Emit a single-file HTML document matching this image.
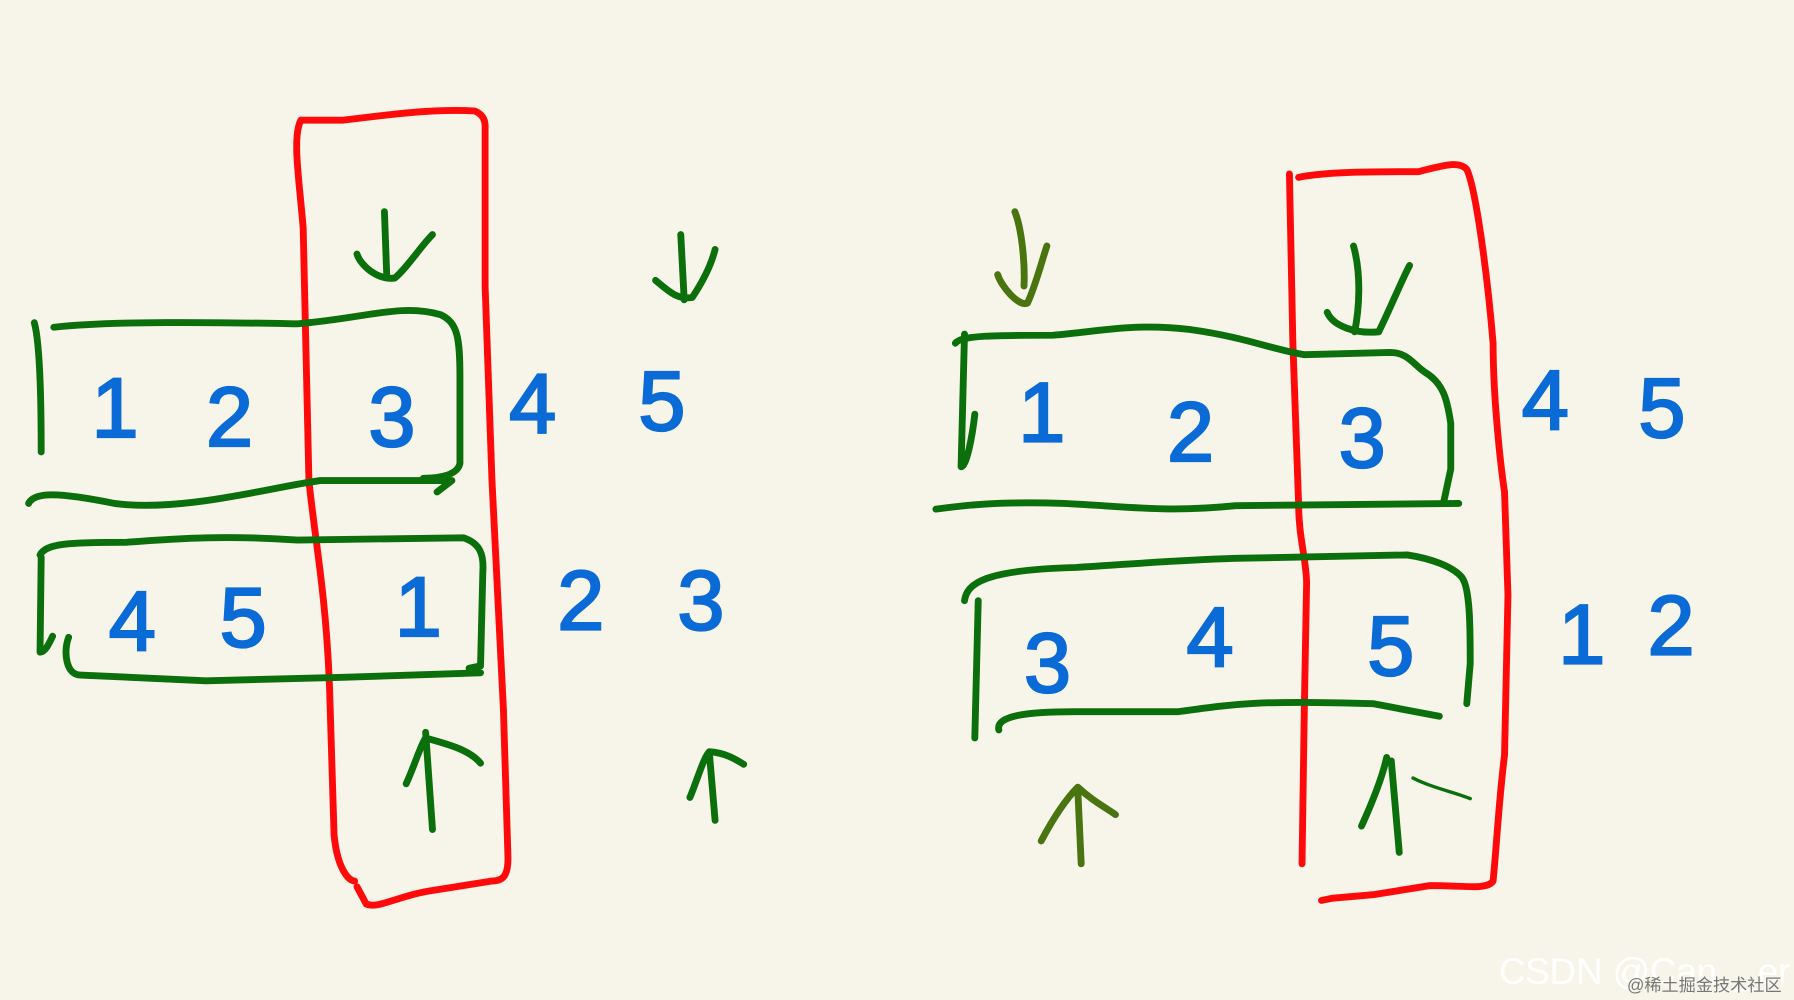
<!DOCTYPE html>
<html><head><meta charset="utf-8">
<style>
html,body{margin:0;padding:0;background:#f7f5e9;}
svg{display:block;}
.r{fill:none;stroke:#ff0a0a;stroke-width:6;stroke-linecap:round;stroke-linejoin:round}
.g{fill:none;stroke:#0b700b;stroke-width:6;stroke-linecap:round;stroke-linejoin:round}
.o{fill:none;stroke:#4a7410;stroke-width:6;stroke-linecap:round;stroke-linejoin:round}
.n{fill:#0a6bd6;stroke:#0a6bd6;stroke-width:2;font-family:"Liberation Sans",sans-serif;font-size:74px;font-weight:normal}
</style></head>
<body>
<svg width="1794" height="1000" viewBox="0 0 1568 874" xmlns="http://www.w3.org/2000/svg">
<rect width="1568" height="874" fill="#f7f5e9"/>
<!-- LEFT -->
<path class="r" d="M263,105 C255,120 262,160 265,200 L270,420 C275,470 285,520 288,600 L292,730 C295,760 305,770 310,770"/>
<path class="r" d="M263,105 L300,105 C340,100 380,95 415,97 C422,100 424,105 424,110 L424,250 L430,420 L440,620 L444,750 C444,765 440,770 430,770 L380,778 C350,782 330,795 320,790 L312,775"/>
<path class="g" d="M47,286 C100,280 200,282 260,283 C320,278 350,265 385,275 C400,282 402,295 402,330 L402,405 C400,415 385,418 370,418"/>
<path class="g" d="M25,440 C30,430 50,430 100,440 C160,448 240,425 280,420 L380,420 L395,420 L382,430"/>
<path class="g" d="M30,282 C35,300 36,350 36,395"/>
<path class="g" d="M336,185 L338,240 M312,222 C315,232 330,245 345,243 C355,235 368,215 378,205"/>
<path class="g" d="M35,485 C40,475 60,474 110,474 C160,470 200,468 260,472 L405,470 C420,475 423,485 422,500 L420,582 L410,584"/>
<path class="g" d="M60,557 C55,570 58,590 70,590 L180,595 L300,592 L420,588"/>
<path class="g" d="M36,487 L35,570 C40,570 44,560 46,556"/>
<path class="g" d="M378,725 L372,640 M355,685 C362,670 368,650 372,645 C390,650 410,655 420,667"/>
<path class="g" d="M595,205 L598,262 M573,245 C585,255 592,262 605,260 C615,245 622,230 625,218"/>
<path class="g" d="M625,717 L620,658 M603,697 C610,680 615,662 620,657 C635,658 645,665 650,668"/>
<text class="n" x="80" y="382">1</text>
<text class="n" x="180" y="390">2</text>
<text class="n" x="322" y="390">3</text>
<text class="n" x="445" y="378">4</text>
<text class="n" x="558" y="376">5</text>
<text class="n" x="95" y="568">4</text>
<text class="n" x="192" y="565">5</text>
<text class="n" x="345" y="556">1</text>
<text class="n" x="487" y="550">2</text>
<text class="n" x="592" y="550">3</text>
<!-- RIGHT -->
<path class="r" d="M1127,152 L1130,300 L1135,440 C1135,470 1142,490 1142,510 L1140,620 L1138,755"/>
<path class="r" d="M1135,155 C1160,150 1200,150 1240,150 C1260,145 1275,140 1282,148 C1290,165 1300,240 1305,300 C1305,350 1312,410 1315,430 L1318,520 L1315,660 C1310,700 1308,740 1305,770 C1300,778 1280,774 1250,774 L1200,782 L1165,785 L1155,787"/>
<path class="g" d="M835,300 C840,293 870,293 920,293 C960,290 990,282 1040,288 C1090,295 1110,305 1140,310 L1215,308 C1230,308 1235,318 1245,325 C1262,335 1265,350 1268,370 L1268,410 L1262,438"/>
<path class="g" d="M818,445 C840,442 870,438 930,440 C990,443 1020,448 1080,442 L1275,440"/>
<path class="g" d="M843,292 L840,408 C845,408 850,380 852,362"/>
<path class="o" d="M887,185 C893,200 896,230 895,250 M872,240 C875,250 890,268 898,265 C905,250 910,230 915,215"/>
<path class="g" d="M1183,215 C1190,240 1188,270 1184,290 M1160,273 C1165,285 1185,292 1205,290 C1215,270 1225,245 1232,232"/>
<path class="g" d="M843,525 C845,510 860,498 940,496 C990,493 1020,490 1080,488 L1230,485 C1250,488 1270,495 1278,505 C1285,515 1285,550 1285,580 L1282,615"/>
<path class="g" d="M855,525 L852,645"/>
<path class="g" d="M873,638 C870,625 900,622 940,622 L1030,622 C1080,615 1100,612 1200,615 L1258,626"/>
<path class="o" d="M945,755 L942,690 M910,735 C918,720 930,700 942,688 C955,700 965,705 975,712"/>
<path class="g" d="M1223,745 L1216,665 M1190,722 C1200,700 1208,680 1212,662"/>
<path class="g" style="stroke-width:3" d="M1235,680 C1250,688 1270,692 1285,698"/>
<text class="n" x="890" y="386">1</text>
<text class="n" x="1020" y="403">2</text>
<text class="n" x="1170" y="408">3</text>
<text class="n" x="1330" y="375">4</text>
<text class="n" x="1432" y="382">5</text>
<text class="n" x="895" y="605">3</text>
<text class="n" x="1037" y="582">4</text>
<text class="n" x="1195" y="590">5</text>
<text class="n" x="1362" y="580">1</text>
<text class="n" x="1440" y="572">2</text>
<text x="1310" y="860" fill="#ffffff" font-family="Liberation Sans,sans-serif" font-size="32">CSDN @Can__er</text>
<text x="1422" y="866" fill="#777" font-family="Liberation Sans,Noto Sans CJK SC,sans-serif" font-size="15">@稀土掘金技术社区</text>
</svg>
</body></html>
